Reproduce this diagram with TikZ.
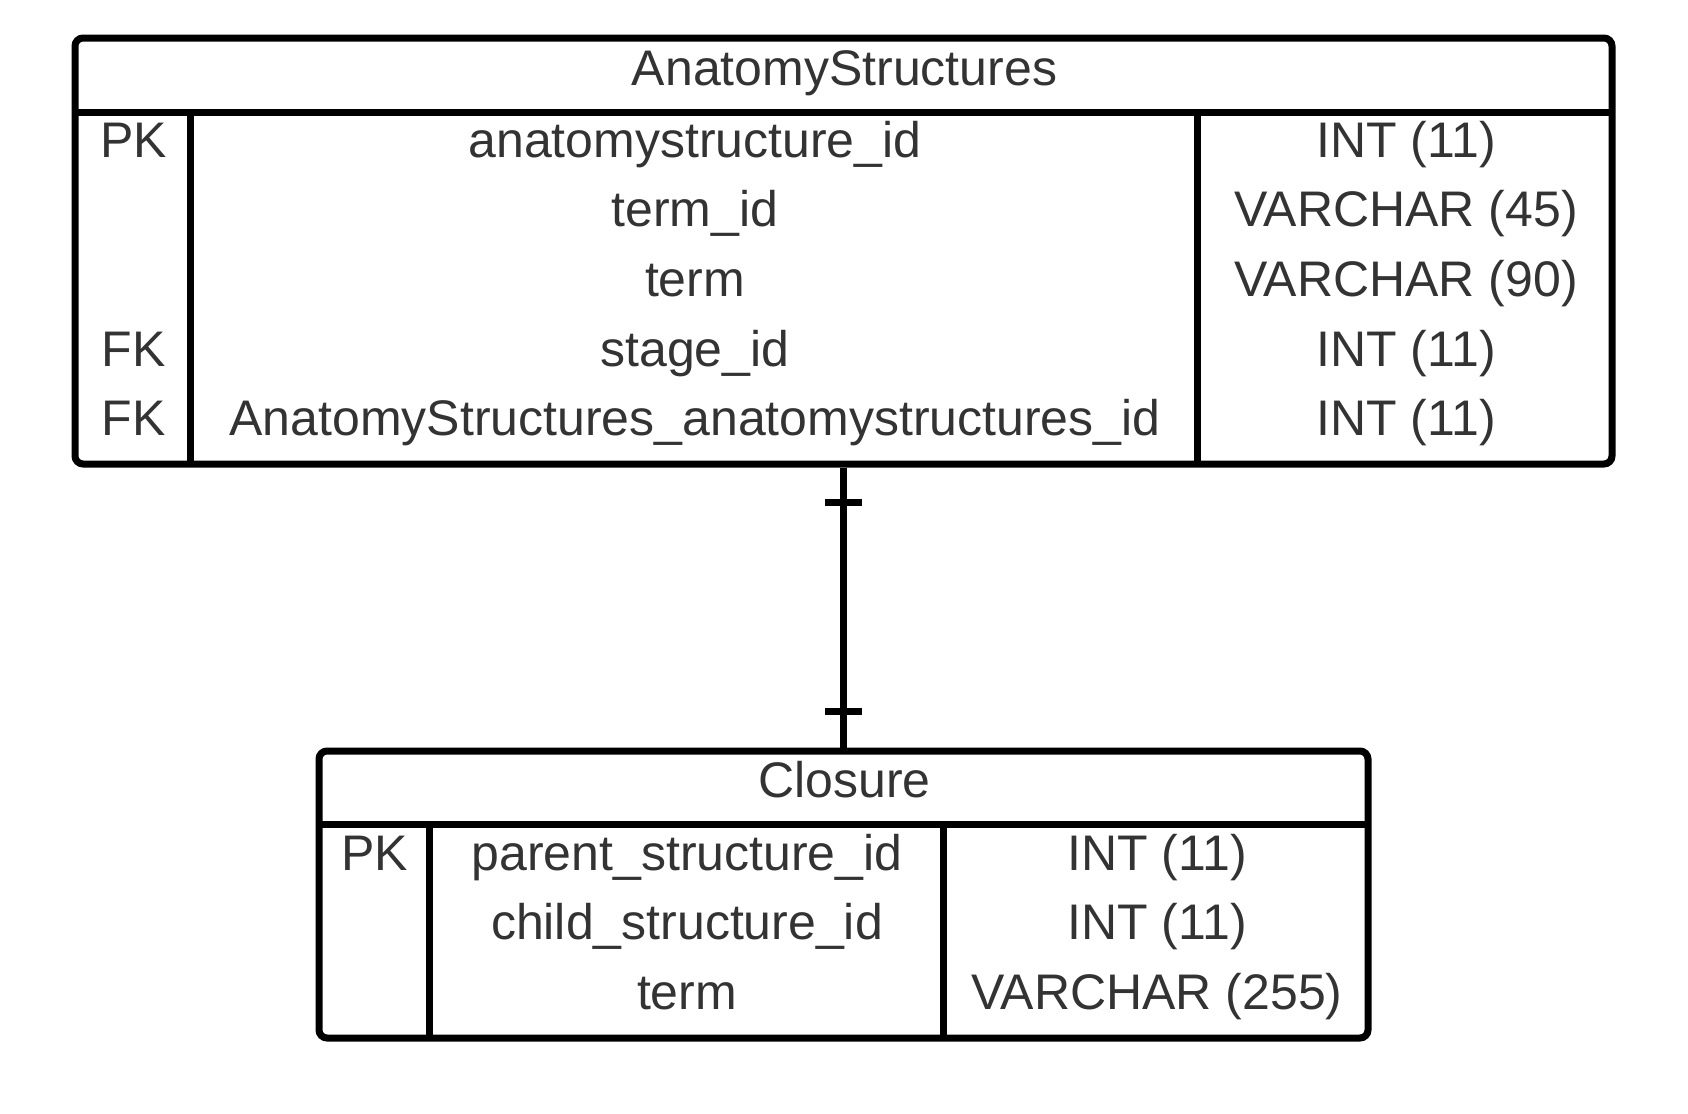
\documentclass[tikz,border=0pt]{standalone}
\usepackage{fontspec}
\setmainfont{Liberation Sans}
\definecolor{txtgray}{HTML}{333333}
\begin{document}
\begin{tikzpicture}[x=0.5pt, y=-0.5pt, line width=3.5pt,
  tbl/.style={draw=black, rounded corners=4pt, inner sep=0pt},
  cell/.style={text=txtgray, anchor=base, inner sep=0pt, font=\fontsize{25}{30}\selectfont}]
\useasboundingbox (0,0) rectangle (1688,1114);
% tables
\node[tbl, minimum width=768.5pt, minimum height=213pt] (anat) at (843.5,251) {};
\node[tbl, minimum width=524.5pt, minimum height=143.5pt] (clos) at (843.5,894.5) {};
\draw (75,112) -- (1612,112);
\draw (190,112) -- (190,464);
\draw (1197,112) -- (1197,464);
\draw (319,824) -- (1368,824);
\draw (429,824) -- (429,1038);
\draw (943,824) -- (943,1038);
% titles
\node[cell] (anat-title) at (844.5,85.5) {AnatomyStructures};
\node[cell] (clos-title) at (844.5,797) {Closure};
% rows
\foreach \k/\f/\t [count=\i] in {PK/anatomystructure\_id/INT (11), /term\_id/VARCHAR (45), /term/VARCHAR (90), FK/stage\_id/INT (11), FK/AnatomyStructures\_anatomystructures\_id/INT (11)} {
  \node[cell] (anat-key-\i) at (133.5,157+69.7*\i-69.7) {\k};
  \node[cell] (anat-field-\i) at (695,157+69.7*\i-69.7) {\f};
  \node[cell] (anat-type-\i) at (1406,157+69.7*\i-69.7) {\t};
}
\foreach \k/\f/\t [count=\i] in {PK/parent\_structure\_id/INT (11), /child\_structure\_id/INT (11), /term/VARCHAR (255)} {
  \node[cell] (clos-key-\i) at (374.5,870+69.5*\i-69.5) {\k};
  \node[cell] (clos-field-\i) at (687,870+69.5*\i-69.5) {\f};
  \node[cell] (clos-type-\i) at (1157,870+69.5*\i-69.5) {\t};
}
% one-to-one link
\draw (anat.south) -- (clos.north);
\path (anat.south) ++(0,35) coordinate (bar-top);
\path (clos.north) ++(0,-36) coordinate (bar-bot);
\draw ([xshift=-9.25pt]bar-top) -- ([xshift=9.25pt]bar-top);
\draw ([xshift=-9.25pt]bar-bot) -- ([xshift=9.25pt]bar-bot);
\end{tikzpicture}
\end{document}
